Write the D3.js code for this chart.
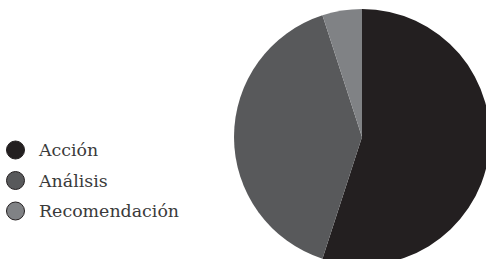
<!DOCTYPE html>
<html>
<head>
<meta charset="utf-8">
<script src="https://cdn.jsdelivr.net/npm/d3@7"></script>
<style>
  body { margin: 0; background: #fff; }
  svg { display: block; }
</style>
</head>
<body>
<script>
const widthPIE = 486, heightPIE = 259;

const categories = ["Acción", "Análisis", "Recomendación"];
const shares = [55, 40, 5];
const colours = ["#231f20", "#58595b", "#808285"];

var svgPIE = d3.select("body")
               .append("svg")
               .attr("width", widthPIE)
               .attr("height", heightPIE)

var colorPIE = d3.scaleOrdinal()
                 .domain(categories)
                 .range(colours)

var pie = d3.pie()
            .sort(null)
            .value(function(d){ return d.value })

var arc = d3.arc()
            .innerRadius(0)
            .outerRadius(128)

var data = categories.map(function(c, i){
    return {name: c, value: shares[i]}
})

var gPIE = svgPIE.append("g")
                 .attr("transform", "translate(362,137)")

gPIE.selectAll("path")
    .data(pie(data))
    .enter()
    .append("path")
    .attr("d", arc)
    .attr("fill", function(d){ return colorPIE(d.data.name) })

// legend
var legendY = d3.scalePoint()
                .domain(categories)
                .range([150, 211])

var legend = svgPIE.selectAll(".legend")
                   .data(categories)
                   .enter()
                   .append("g")
                   .attr("class", "legend")
                   .attr("transform", function(d){
                       return "translate(15.5," + legendY(d) + ")"
                   })

legend.append("circle")
      .attr("r", 9)
      .attr("fill", function(d){ return colorPIE(d) })
      .attr("stroke", "#231f20")
      .attr("stroke-width", 1)

legend.append("text")
      .attr("x", 23.5)
      .attr("y", 0)
      .attr("dy", "0.35em")
      .attr("font-family", "DejaVu Serif")
      .attr("font-size", 17.4)
      .attr("fill", "#3a3a3a")
      .text(function(d){ return d })
</script>
</body>
</html>
